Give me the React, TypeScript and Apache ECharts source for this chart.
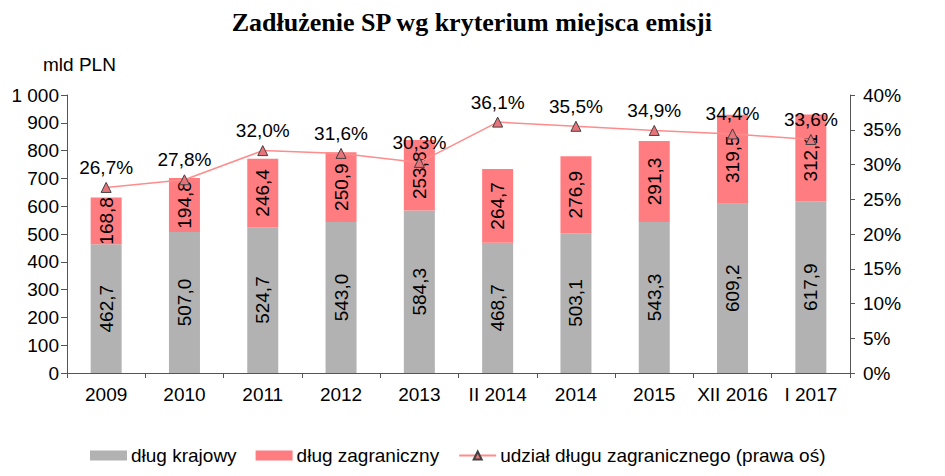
import React, { useEffect, useRef } from "react";
import * as echarts from "echarts";

const categories = ["2009", "2010", "2011", "2012", "2013", "II 2014", "2014", "2015", "XII 2016", "I 2017"];
const domesticDebt = [462.7, 507.0, 524.7, 543.0, 584.3, 468.7, 503.1, 543.3, 609.2, 617.9];
const foreignDebt = [168.8, 194.8, 246.4, 250.9, 253.8, 264.7, 276.9, 291.3, 319.5, 312.1];
const foreignShare = [26.7, 27.8, 32.0, 31.6, 30.3, 36.1, 35.5, 34.9, 34.4, 33.6];

const fmt = (v: number) => v.toFixed(1).replace(".", ",");
const FONT = "Liberation Sans, Arial, sans-serif";
const FS = 19;

export default function App() {
  const ref = useRef<HTMLDivElement>(null);
  useEffect(() => {
    document.body.style.margin = "0";
    const chart = echarts.init(ref.current!, null, { renderer: "svg" });
    const axisColor = "#555555";
    chart.setOption({
      animation: false,
      textStyle: { fontFamily: FONT },
      graphic: [
        {
          type: "text",
          left: "center",
          top: 9,
          style: {
            text: "Zadłużenie SP wg kryterium miejsca emisji",
            font: "bold 26px 'Liberation Serif', 'Times New Roman', serif",
            fill: "#000",
          },
        },
        {
          type: "text",
          left: 43,
          top: 55,
          style: { text: "mld PLN", font: `${FS}px ${FONT}`, fill: "#000" },
        },
      ],
      legend: {
        left: 85,
        top: 441,
        itemWidth: 37,
        itemHeight: 10,
        itemGap: 19,
        textStyle: { fontSize: FS, color: "#000", fontFamily: FONT, padding: [0, 0, 0, -1] },
        data: [
          { name: "dług krajowy", icon: "rect" },
          { name: "dług zagraniczny", icon: "rect" },
          { name: "udział długu zagranicznego (prawa oś)" },
        ],
      },
      grid: { left: 67, right: 95, top: 95, bottom: 103 },
      xAxis: {
        type: "category",
        data: categories,
        axisLine: { lineStyle: { color: axisColor } },
        axisTick: { show: true, alignWithLabel: false, length: 5, lineStyle: { color: axisColor } },
        axisLabel: { fontSize: FS, color: "#000", margin: 12, fontFamily: FONT, interval: 0, hideOverlap: false },
      },
      yAxis: [
        {
          type: "value",
          min: 0,
          max: 1000,
          interval: 100,
          splitLine: { show: false },
          axisLine: { show: true, lineStyle: { color: axisColor } },
          axisTick: { show: true, length: 6, lineStyle: { color: axisColor } },
          axisLabel: {
            fontSize: FS,
            color: "#000",
            margin: 8,
            fontFamily: FONT,
            formatter: (v: number) => (v >= 1000 ? "1 000" : String(v)),
          },
        },
        {
          type: "value",
          min: 0,
          max: 40,
          interval: 5,
          position: "right",
          splitLine: { show: false },
          axisLine: { show: true, lineStyle: { color: axisColor } },
          axisTick: { show: true, length: 5, lineStyle: { color: axisColor } },
          axisLabel: {
            fontSize: FS,
            color: "#000",
            margin: 13,
            fontFamily: FONT,
            formatter: (v: number) => v + "%",
          },
        },
      ],
      series: [
        {
          name: "dług krajowy",
          type: "bar",
          stack: "debt",
          data: domesticDebt,
          barWidth: 31,
          itemStyle: { color: "#b2b2b2" },
          label: {
            show: true,
            position: "inside",
            rotate: 90,
            fontSize: FS,
            color: "#000",
            fontFamily: FONT,
            formatter: (p: any) => fmt(p.value),
          },
        },
        {
          name: "dług zagraniczny",
          type: "bar",
          stack: "debt",
          data: foreignDebt,
          barWidth: 31,
          itemStyle: { color: "#ff7c80" },
          label: {
            show: true,
            position: "inside",
            rotate: 90,
            fontSize: FS,
            color: "#000",
            fontFamily: FONT,
            formatter: (p: any) => fmt(p.value),
          },
        },
        {
          name: "udział długu zagranicznego (prawa oś)",
          type: "line",
          yAxisIndex: 1,
          data: foreignShare,
          symbol: "triangle",
          symbolSize: 10,
          lineStyle: { color: "#ff8c8c", width: 1.5 },
          itemStyle: { color: "#e8737a", borderColor: "#404040", borderWidth: 1 },
          label: {
            show: true,
            position: "top",
            distance: 5,
            fontSize: FS,
            color: "#000",
            fontFamily: FONT,
            formatter: (p: any) => fmt(p.value) + "%",
          },
        },
      ],
    });
    return () => chart.dispose();
  }, []);
  return <div ref={ref} style={{ width: 945, height: 476 }} />;
}
